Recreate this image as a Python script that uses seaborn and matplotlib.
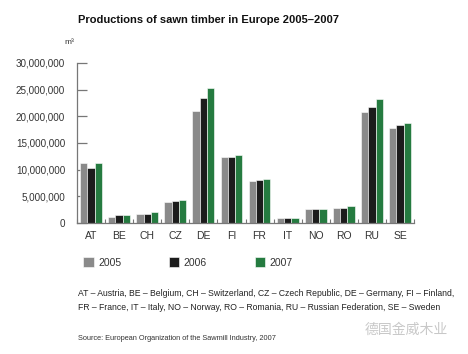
import pandas as pd
import seaborn as sns
import matplotlib.pyplot as plt
from matplotlib.ticker import FuncFormatter, MultipleLocator

sns.set_theme(style="white")
plt.rcParams['font.family'] = ['Liberation Sans', 'Noto Sans CJK SC', 'DejaVu Sans']

# Sawn timber production, m3
countries = ['AT', 'BE', 'CH', 'CZ', 'DE', 'FI', 'FR', 'IT', 'NO', 'RO', 'RU', 'SE']
years = ['2005', '2006', '2007']
prod_2005 = [11200000, 1150000, 1650000, 3850000, 21050000, 12400000, 7900000, 850000, 2550000, 2850000, 20800000, 17900000]
prod_2006 = [10400000, 1500000, 1650000, 4150000, 23500000, 12400000, 8050000, 900000, 2550000, 2850000, 21700000, 18300000]
prod_2007 = [11200000, 1500000, 2100000, 4250000, 25300000, 12800000, 8200000, 850000, 2550000, 3150000, 23250000, 18750000]

colors = ['#8a8a8a', '#1c1c1c', '#17893a']

df = pd.DataFrame({'2005': prod_2005, '2006': prod_2006, '2007': prod_2007}, index=countries)
long_df = df.reset_index(names='country').melt(id_vars='country', var_name='year', value_name='m3')

fig = plt.figure(figsize=(4.68, 3.54), dpi=100)
ax = fig.add_axes([77 / 468, 1 - 223 / 354, 337 / 468, 160 / 354])

sns.barplot(data=long_df, x='country', y='m3', hue='year', hue_order=years,
            palette=colors, width=0.78, edgecolor='white', linewidth=0.4,
            ax=ax, legend=True)

ax.set_xlim(-0.5, 11.5)
ax.set_ylim(0, 30000000)
ax.yaxis.set_major_locator(MultipleLocator(5000000))
ax.yaxis.set_major_formatter(FuncFormatter(lambda v, p: f'{int(v):,}'))
ax.set_xlabel('')
ax.set_ylabel('')

for side in ['top', 'right']:
    ax.spines[side].set_visible(False)
for side in ['left', 'bottom']:
    ax.spines[side].set_color('#777777')
    ax.spines[side].set_linewidth(0.9)

ax.tick_params(axis='y', direction='in', length=7, width=0.9, color='#777777',
               labelsize=7.1, labelcolor='#333333', pad=8.5, left=True)
ax.tick_params(axis='x', length=0, labelsize=7.5, labelcolor='#333333', pad=6)
ax.set_xticks([i - 0.5 for i in range(13)], minor=True)
ax.tick_params(axis='x', which='minor', direction='in', length=3, width=0.8,
               color='#777777', bottom=True)

# Legend under the chart
handles, labels = ax.get_legend_handles_labels()
ax.get_legend().remove()
fig.legend(handles, labels, loc='upper left', bbox_to_anchor=(74 / 468, 1 - 248 / 354),
           ncol=3, frameon=False, fontsize=7.5, handlelength=1.0, handleheight=1.0,
           handletextpad=0.4, columnspacing=4.6, labelcolor='#333333')

fig.text(78 / 468, 1 - 20 / 354, 'Productions of sawn timber in Europe 2005\u20132007',
         fontsize=8.0, fontweight='bold', color='#111111', va='center')
fig.text(64 / 468, 1 - 43 / 354, 'm\u00b3', fontsize=6, color='#333333', va='center')

fig.text(78 / 468, 1 - 293 / 354,
         'AT \u2013 Austria, BE \u2013 Belgium, CH \u2013 Switzerland, CZ \u2013 Czech Republic, '
         'DE \u2013 Germany, FI \u2013 Finland,',
         fontsize=6.2, color='#222222', va='center')
fig.text(78 / 468, 1 - 308 / 354,
         'FR \u2013 France, IT \u2013 Italy, NO \u2013 Norway, RO \u2013 Romania, '
         'RU \u2013 Russian Federation, SE \u2013 Sweden',
         fontsize=6.2, color='#222222', va='center')
fig.text(78 / 468, 1 - 339 / 354, 'Source: European Organization of the Sawmill Industry, 2007',
         fontsize=5.3, color='#333333', va='center')
fig.text(365 / 468, 1 - 330 / 354, '德国金威木业', fontsize=10, color='#c8c8c8', va='center')

fig.savefig('out.png', dpi=100)
